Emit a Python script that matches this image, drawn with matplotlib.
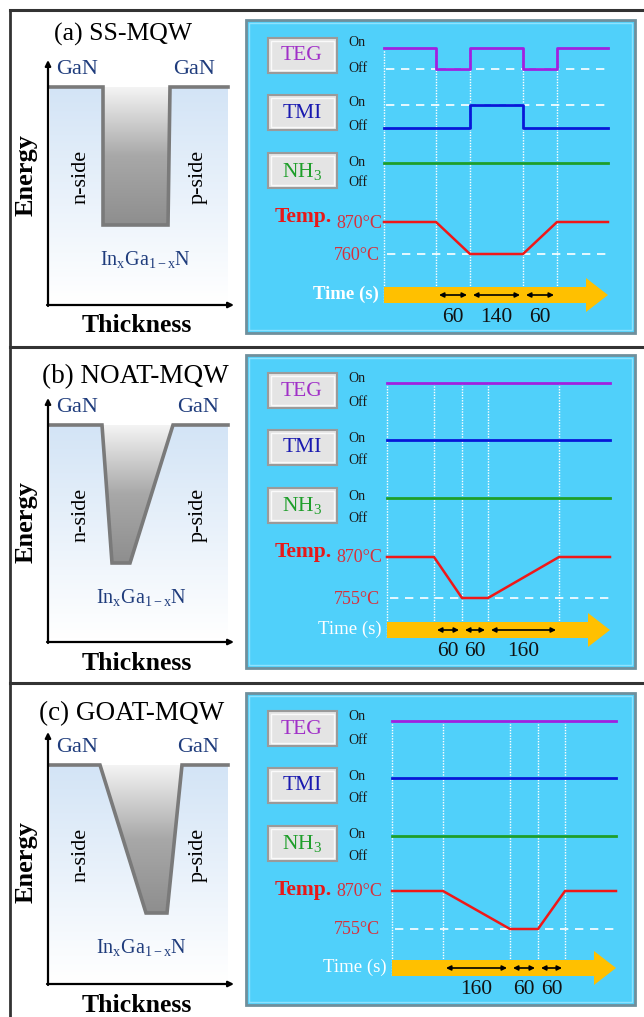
import numpy as np
import matplotlib
matplotlib.use("Agg")
import matplotlib.pyplot as plt
import matplotlib.patches as mpatches
from matplotlib.colors import LinearSegmentedColormap

plt.rcParams["font.family"] = ["Liberation Serif", "DejaVu Serif"]
plt.rcParams["mathtext.fontset"] = "custom"
plt.rcParams["mathtext.rm"] = "Liberation Serif"
plt.rcParams["mathtext.it"] = "Liberation Serif:italic"

# ---- data ----
panel_names = ["(a) SS-MQW", "(b) NOAT-MQW", "(c) GOAT-MQW"]
step_times = [[60, 140, 60], [60, 60, 160], [160, 60, 60]]   # labelled durations (s)
t_high = 870
t_low = [760, 755, 755]
# schematic breakpoints of the timing diagram (pixels, start ... end)
breaks = [
    [384, 436, 470, 523, 557, 608],
    [387, 434, 462, 488, 559, 610],
    [392, 443, 510, 538, 565, 616],
]
teg_state = [[1, 0, 1, 0, 1], [1, 1, 1, 1, 1], [1, 1, 1, 1, 1]]
tmi_state = [[0, 0, 1, 0, 0], [1, 1, 1, 1, 1], [1, 1, 1, 1, 1]]
nh3_state = [[1, 1, 1, 1, 1], [1, 1, 1, 1, 1], [1, 1, 1, 1, 1]]
temp_at_breaks = [
    [870, 870, 760, 760, 870, 870],
    [870, 870, 755, 755, 870, 870],
    [870, 870, 755, 755, 870, 870],
]
# quantum-well energy profile: corner x positions
well_x = [
    [103, 103, 168, 170],
    [102, 112, 130, 173],
    [100, 146, 167, 182],
]

# ---- layout (pixels) ----
panel_top = [10, 347, 683]
box_top = [20, 355, 693]
box_bottom = [333, 668, 1005]
title_xy = [(123, 34), (135, 377), (132, 714)]
title_size = [18.5, 19.5, 19.5]
gan_right_x = [194, 198, 198]
gan_level = [87, 425, 765]
well_bottom = [225, 563, 913]
xaxis_y = [305, 642, 984]
yaxis_top = [60, 398, 732]
energy_y = [175, 522, 862]
temp_dy = {870: [202, 202, 198], 760: [234, 0, 0], 755: [0, 243, 236]}
sig_dy = {"TEG": (28, 49), "TMI": (85, 108), "NH3": (143, 165)}
sig_label_dy = {"TEG": (23, 48), "TMI": (83, 106), "NH3": (142, 163)}
sig_color = {"TEG": "#A020E0", "TMI": "#0818D8", "NH3": "#1E9E2A"}
btn_text_color = {"TEG": "#A030C8", "TMI": "#1A1AB0", "NH3": "#1E9E2A"}
btn_label = {"TEG": "TEG", "TMI": "TMI", "NH3": r"NH$_\mathregular{3}$"}

fig = plt.figure(figsize=(6.44, 10.17), dpi=100)
ax = fig.add_axes([0, 0, 1, 1])

blue_cmap = LinearSegmentedColormap.from_list("bg", ["#D3E4F6", "#FFFFFF"])
gray_cmap = LinearSegmentedColormap.from_list("well", ["#F4F4F4", "#A8A8A8", "#8E8E8E"])
grad = np.linspace(0, 1, 256).reshape(-1, 1)

# outer frame
ax.plot([10, 10], [10, 1017], color="#333333", lw=2)
for yt in panel_top:
    ax.plot([10, 644], [yt, yt], color="#333333", lw=2.2)

for p in range(3):
    # ---------- left: band diagram ----------
    ax.text(title_xy[p][0], title_xy[p][1], panel_names[p], fontsize=title_size[p],
            ha="center", va="center")
    ax.imshow(grad, cmap=blue_cmap, extent=(50, 228, xaxis_y[p] - 4, gan_level[p]),
              aspect="auto", origin="upper", zorder=1)
    g = gan_level[p]
    b = well_bottom[p]
    wx = well_x[p]
    well_poly = [(wx[0], g), (wx[1], b), (wx[2], b), (wx[3], g)]
    img = ax.imshow(grad, cmap=gray_cmap, extent=(wx[0], wx[3], b, g),
                    aspect="auto", origin="upper", zorder=2)
    clip = mpatches.Polygon(well_poly, closed=True, transform=ax.transData)
    img.set_clip_path(clip)
    px = [50, wx[0], wx[1], wx[2], wx[3], 228]
    py = [g, g, b, b, g, g]
    ax.plot(px, py, color="#7A7A7A", lw=2.6, zorder=3, solid_joinstyle="miter")
    # axes arrows
    ax.annotate("", xy=(48, yaxis_top[p]), xytext=(48, xaxis_y[p] + 1),
                arrowprops=dict(arrowstyle="-|>", color="black", lw=1.6,
                                mutation_scale=8, shrinkA=0, shrinkB=0), zorder=4)
    ax.annotate("", xy=(234, xaxis_y[p]), xytext=(47, xaxis_y[p]),
                arrowprops=dict(arrowstyle="-|>", color="black", lw=1.6,
                                mutation_scale=8, shrinkA=0, shrinkB=0), zorder=4)
    ax.text(26, energy_y[p], "Energy", rotation=90, fontsize=19,
            fontweight="bold", ha="center", va="center")
    ax.text(137, xaxis_y[p] + 21, "Thickness", fontsize=18.5, fontweight="bold",
            ha="center", va="center")
    ax.text(77, g - 17, "GaN", fontsize=16, color="#1F3C7C", ha="center", va="center")
    ax.text(gan_right_x[p], g - 17, "GaN", fontsize=16, color="#1F3C7C",
            ha="center", va="center")
    mid = g + 90
    ax.text(81, mid, "n-side", rotation=90, fontsize=16, ha="center", va="center", zorder=5)
    ax.text(198, mid, "p-side", rotation=90, fontsize=16, ha="center", va="center", zorder=5)
    ax.text(145 if p == 0 else 141, b + 34, r"In$_\mathregular{x}$Ga$_\mathregular{1-x}$N",
            fontsize=14.5, color="#1F3C7C", ha="center", va="center")

    # ---------- right: growth timing chart ----------
    y0 = box_top[p]
    ax.add_patch(mpatches.Rectangle((246, y0), 389, box_bottom[p] - y0,
                                    facecolor="#50D0FA", edgecolor="#6F8F9C",
                                    lw=2, zorder=1))
    ax.add_patch(mpatches.Rectangle((249, y0 + 3), 383, box_bottom[p] - y0 - 6,
                                    facecolor="none", edgecolor="#8EE2FF",
                                    lw=1, zorder=1))
    bx = breaks[p]
    for name in ["TEG", "TMI", "NH3"]:
        # gas button
        by = y0 + sig_dy[name][0] - 10
        ax.add_patch(mpatches.Rectangle((268, by), 69, 35, facecolor="#E4E4E4",
                                        edgecolor="#9A9A9A", lw=1.5, zorder=2))
        ax.add_patch(mpatches.Rectangle((271, by + 3), 63, 29, facecolor="none",
                                        edgecolor="#FAFAFA", lw=1, zorder=2))
        ax.text(302, by + 18, btn_label[name], fontsize=15.5, color=btn_text_color[name],
                ha="center", va="center", zorder=3)
        ax.text(348, y0 + sig_label_dy[name][0], "On", fontsize=10, color="#1A1A1A",
                ha="left", va="center")
        ax.text(348, y0 + sig_label_dy[name][1], "Off", fontsize=10, color="#1A1A1A",
                ha="left", va="center")

    # dashed reference levels
    if p == 0:
        ax.plot([bx[0] + 2, bx[-1]], [y0 + sig_dy["TEG"][1]] * 2, color="white",
                lw=1.2, ls=(0, (5, 4)), zorder=2)
        ax.plot([bx[0] + 2, bx[-1]], [y0 + sig_dy["TMI"][0]] * 2, color="white",
                lw=1.2, ls=(0, (5, 4)), zorder=2)
    ylow = y0 + temp_dy[t_low[p]][p]
    ax.plot([bx[0] + 3, bx[-1] + 2], [ylow, ylow], color="white", lw=1.2,
            ls=(0, (5, 4)), zorder=2)

    # vertical dotted guides
    for xb in bx[:-1]:
        ax.plot([xb, xb], [y0 + sig_dy["TEG"][0], y0 + 283], color="white",
                lw=1, ls=(0, (1, 1)), zorder=2)

    # gas signals
    for name, states in [("TEG", teg_state[p]), ("TMI", tmi_state[p]),
                         ("NH3", nh3_state[p])]:
        on_y, off_y = sig_dy[name]
        ys = [y0 + (on_y if s else off_y) for s in states]
        ax.step(bx, ys + [ys[-1]], where="post", color=sig_color[name], lw=2, zorder=4)

    # temperature profile
    ty = [y0 + temp_dy[t][p] for t in temp_at_breaks[p]]
    ax.plot(bx, ty, color="#F01818", lw=1.8, zorder=4)
    ax.text(332, y0 + 197, "Temp.", fontsize=15.5, fontweight="bold", color="#E81818",
            ha="right", va="center")
    ax.text(336, y0 + temp_dy[t_high][p] + 1, f"{t_high}°C", fontsize=13, color="#D8303A",
            ha="left", va="center")
    ax.text(380, ylow + 1, f"{t_low[p]}°C", fontsize=13, color="#D8303A",
            ha="right", va="center")

    # time arrow
    ty_arrow = y0 + 275
    ax.add_patch(mpatches.FancyArrow(bx[0], ty_arrow, bx[-1] - bx[0], 0, width=16,
                                     head_width=34, head_length=22,
                                     length_includes_head=True, color="#FFC000",
                                     lw=0, zorder=3))
    ax.text(bx[0] - 5, ty_arrow - 1, "Time (s)", fontsize=13.5, color="white",
            fontweight="bold" if p == 0 else "normal", ha="right", va="center")
    for k, dur in enumerate(step_times[p]):
        xa, xb2 = bx[k + 1], bx[k + 2]
        ax.annotate("", xy=(xb2 - 3, ty_arrow), xytext=(xa + 3, ty_arrow),
                    arrowprops=dict(arrowstyle="<|-|>", color="black", lw=1.2,
                                    mutation_scale=7, shrinkA=0, shrinkB=0), zorder=5)
        ax.text((xa + xb2) / 2, ty_arrow + 22, str(dur), fontsize=15.5, color="#111111",
                ha="center", va="center")

ax.set_xlim(0, 644)
ax.set_ylim(1017, 0)
ax.axis("off")
fig.savefig("out.png", dpi=100, facecolor="white")
